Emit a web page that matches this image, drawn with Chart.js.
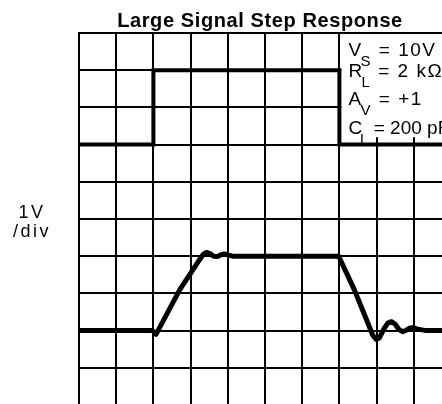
<!DOCTYPE html>
<html>
<head>
<meta charset="utf-8">
<script src="https://cdn.jsdelivr.net/npm/chart.js@4.4.1/dist/chart.umd.min.js"></script>
<style>
  html, body { margin: 0; padding: 0; background: #fff; overflow: hidden; }
  #wrap { position: absolute; left: 0; top: 0; }
</style>
</head>
<body>
<div id="wrap"><canvas id="scope" width="460" height="420"></canvas></div>
<script>
// input step (upper trace), values in divisions
const inputX = [0, 2, 2, 7, 7, 10];
const inputY = [7, 7, 9, 9, 7, 7];

// follower output (lower trace)
const outputX = [0, 1.98, 2.07, 2.71, 3.06, 3.25, 3.35, 3.43, 3.52, 3.62, 3.72, 3.82, 3.92, 4.02, 4.13,
                 6.98, 7.4, 7.9, 7.99, 8.07, 8.2, 8.3, 8.4, 8.5, 8.6, 8.7, 8.8, 8.9, 8.98, 9.1, 9.34, 10];
const outputY = [2.0, 2.0, 1.9, 3.1, 3.63, 3.92, 4.06, 4.1, 4.07, 4.0, 3.99, 4.04, 4.06, 4.03, 4.0,
                 4.0, 3.1, 1.87, 1.76, 1.8, 2.05, 2.2, 2.24, 2.17, 2.03, 1.97, 2.01, 2.07, 2.08, 2.04, 2.0, 2.0];

const chartTitle = "Large Signal Step Response";
const scaleLabel = ["1V", "/div"];
const conditions = [
    ["V", "S", " = 10V"],
    ["R", "L", " = 2 k\u03A9"],
    ["A", "V", " = +1"],
    ["C", "L", " = 200 pF"]
];

function toPoints(xs, ys) {
    return xs.map((x, i) => ({ x: x, y: ys[i] }));
}

const FONT = "'Liberation Sans', Arial, sans-serif";

// white panel behind the test conditions, then all the text
const scopeText = {
    id: "scopeText",
    beforeDatasetsDraw(chart) {
        const { ctx, scales: { x, y } } = chart;
        const left = x.getPixelForValue(7) + 2;
        const top = y.getPixelForValue(10) + 1;
        const bottom = y.getPixelForValue(7.2);
        ctx.save();
        ctx.fillStyle = "#fff";
        ctx.fillRect(left, top, chart.width - left, bottom - top);
        ctx.restore();
    },
    afterDraw(chart) {
        const { ctx, chartArea, scales: { x } } = chart;
        ctx.save();
        ctx.fillStyle = "#000";
        ctx.textBaseline = "alphabetic";

        // title
        ctx.font = "bold 20px " + FONT;
        ctx.letterSpacing = "0.6px";
        ctx.textAlign = "center";
        ctx.fillText(chartTitle, 260, 27);

        // volts per division
        ctx.font = "18px " + FONT;
        ctx.letterSpacing = "2.5px";
        ctx.fillText(scaleLabel[0], 32, 218);
        ctx.fillText(scaleLabel[1], 32, 237);

        // test conditions; the last line is set tighter
        ctx.textAlign = "left";
        const baselines = [23, 44, 72, 101];
        const spacing = ["1.5px", "1.5px", "1.5px", "0px"];
        const x0 = x.getPixelForValue(7) + 9;
        conditions.forEach((row, i) => {
            const base = chartArea.top + baselines[i];
            ctx.letterSpacing = spacing[i];
            ctx.font = "19px " + FONT;
            ctx.fillText(row[0], x0, base);
            let cx = x0 + ctx.measureText(row[0]).width - 2;
            ctx.font = "15px " + FONT;
            ctx.fillText(row[1], cx, base + 10);
            cx += ctx.measureText(row[1]).width;
            ctx.font = "19px " + FONT;
            ctx.fillText(row[2], cx, base);
        });
        ctx.restore();
    }
};

const axis = {
    type: "linear",
    min: 0,
    max: 10,
    ticks: { display: false, stepSize: 1 },
    grid: { color: "#000", lineWidth: 2, drawTicks: false },
    border: { color: "#000", width: 2 }
};

new Chart(document.getElementById("scope"), {
    type: "scatter",
    data: {
        datasets: [
            {
                data: toPoints(inputX, inputY),
                showLine: true,
                borderColor: "#000",
                borderWidth: 4,
                pointRadius: 0,
                tension: 0
            },
            {
                data: toPoints(outputX, outputY),
                showLine: true,
                borderColor: "#000",
                borderWidth: 5,
                pointRadius: 0,
                tension: 0,
                borderCapStyle: "round",
                borderJoinStyle: "round"
            }
        ]
    },
    options: {
        responsive: false,
        animation: false,
        devicePixelRatio: 1,
        layout: { padding: { left: 79, top: 33, right: 9, bottom: 15 } },
        plugins: {
            legend: { display: false },
            tooltip: { enabled: false }
        },
        scales: { x: axis, y: axis }
    },
    plugins: [scopeText]
});
</script>
</body>
</html>
